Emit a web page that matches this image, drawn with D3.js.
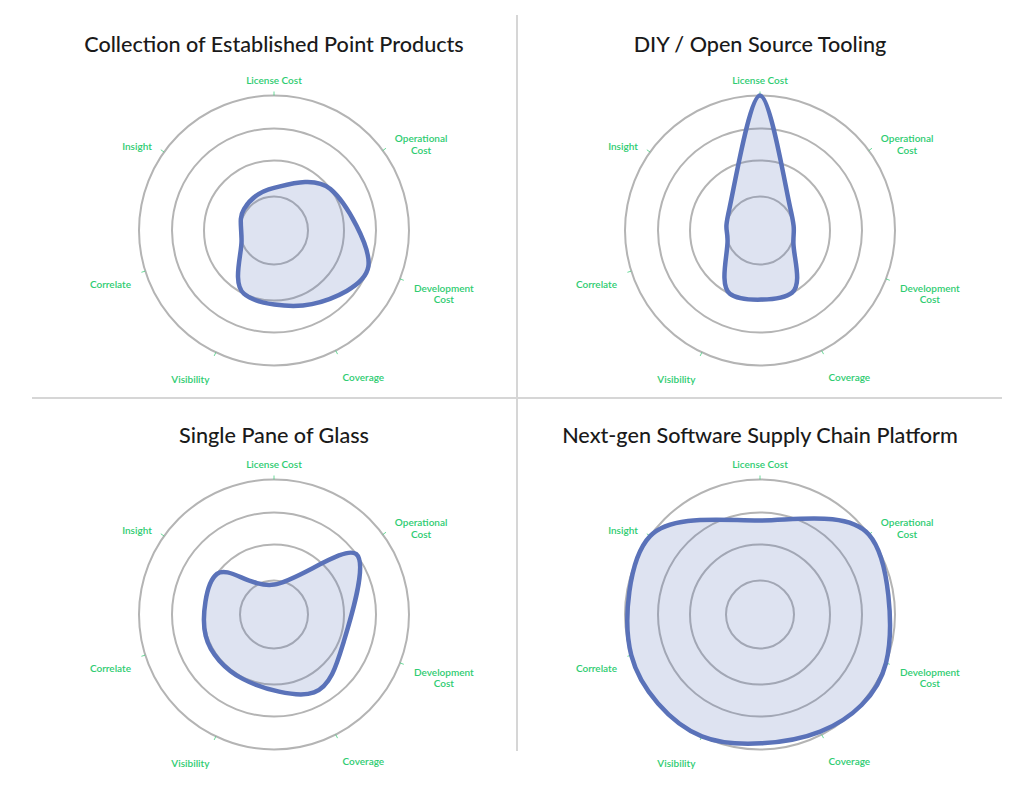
<!DOCTYPE html>
<html><head><meta charset="utf-8">
<script src="https://cdn.jsdelivr.net/npm/d3@7"></script>
<style>
html,body{margin:0;padding:0;background:#fff;}
svg{display:block;}
</style></head><body>
<svg id="c" width="1024" height="789"></svg>
<script>
// ---- data ----
const axes = ["License Cost", "Operational Cost", "Development Cost", "Coverage", "Visibility", "Correlate", "Insight"];
const chartTitles = ["Collection of Established Point Products", "DIY / Open Source Tooling", "Single Pane of Glass", "Next-gen Software Supply Chain Platform"];
const pointProducts = [1.24, 2.0, 2.97, 2.4, 2.0, 1.0, 1.08];
const diyTooling    = [4.0, 1.1, 1.05, 2.0, 2.0, 1.0, 1.1];
const singlePane    = [0.88, 3.0, 2.15, 2.55, 2.05, 2.05, 2.0];
const nextGen       = [2.75, 4.0, 4.0, 3.9, 4.0, 4.0, 4.0];
const gridLevels = [1, 2, 3, 4];

// ---- layout ----
const W = 1024, H = 789;
const seriesList = [pointProducts, diyTooling, singlePane, nextGen];
const centers = [[274, 230.5], [760, 230.5], [274, 614.5], [760, 614.5]];
const titleBaseline = [52, 52, 443, 443];
const axisAngleDeg = [0, 53.7, 111, 152.8, 205.5, 252.5, 305.5];
const LINE = "#5a72b9", GREEN = "#2ecc71", GRID = "#b4b4b4";
const FONT = "Lato, 'Open Sans', sans-serif";

const svg = d3.select("#c");
svg.append("rect").attr("width", W).attr("height", H).attr("fill", "#fff");
svg.append("line").attr("x1", 517).attr("x2", 517).attr("y1", 15).attr("y2", 751)
  .attr("stroke", "#d6d6d6").attr("stroke-width", 2);
svg.append("line").attr("x1", 32).attr("x2", 1002).attr("y1", 398).attr("y2", 398)
  .attr("stroke", "#d6d6d6").attr("stroke-width", 2);

const rScale = d3.scaleLinear().domain([0, 1, 2, 3, 4]).range([0, 34, 70, 102, 135]);
const angle = d3.scaleOrdinal().domain(axes).range(axisAngleDeg.map(d => d * Math.PI / 180));
const maxV = d3.max(gridLevels);

const radial = d3.lineRadial()
  .angle((d, i) => angle(axes[i]))
  .radius(d => rScale(d))
  .curve(d3.curveCardinalClosed);

function wrapLines(sel, word, width) {
  const words = word.split(/\s+/);
  const lines = [];
  let cur = [];
  const t = sel.append("tspan");
  words.forEach(w => {
    const test = cur.concat([w]).join(" ");
    t.text(test);
    if (t.node().getComputedTextLength() > width && cur.length) {
      lines.push(cur.join(" "));
      cur = [w];
    } else cur.push(w);
  });
  lines.push(cur.join(" "));
  t.remove();
  return lines;
}

seriesList.forEach((vals, p) => {
  const [cx, cy] = centers[p];
  const g = svg.append("g").attr("transform", `translate(${cx},${cy})`);

  // title
  svg.append("text").attr("x", cx).attr("y", titleBaseline[p])
    .attr("text-anchor", "middle").attr("font-family", FONT).attr("font-weight", 500)
    .attr("font-size", 21.6).attr("fill", "#1a1a1a").text(chartTitles[p]);

  // grid circles
  g.selectAll("circle.grid").data(gridLevels).enter().append("circle")
    .attr("r", d => rScale(d)).attr("fill", "none")
    .attr("stroke", GRID).attr("stroke-width", 2);

  // ticks
  g.selectAll("line.tick").data(axes).enter().append("line")
    .attr("x1", d => rScale(maxV) * Math.sin(angle(d)))
    .attr("y1", d => -rScale(maxV) * Math.cos(angle(d)))
    .attr("x2", d => (rScale(maxV) + 4) * Math.sin(angle(d)))
    .attr("y2", d => -(rScale(maxV) + 4) * Math.cos(angle(d)))
    .attr("stroke", GREEN).attr("stroke-width", 1).attr("opacity", 0.7);

  // area
  g.append("path").datum(vals).attr("d", radial)
    .attr("fill", LINE).attr("fill-opacity", 0.2)
    .attr("stroke", LINE).attr("stroke-width", 4.5).attr("stroke-linejoin", "round");

  // labels
  const Lx = 150, Ly = 157, lh = 11.5;
  axes.forEach(name => {
    const a = angle(name), s = Math.sin(a), c = Math.cos(a);
    const txt = g.append("text").attr("font-family", FONT).attr("font-size", 10)
      .attr("font-weight", 600).attr("fill", GREEN).attr("text-anchor", "middle");
    const lines = wrapLines(txt, name, 60);
    const spans = lines.map(l => txt.append("tspan").text(l));
    const w = d3.max(spans, sp => sp.node().getComputedTextLength());
    const shift = Math.abs(s) < 0.1 ? 0 : Math.sign(s) * w / 2;
    const bx = Lx * s + shift;
    const by = -Ly * c + 7;
    spans.forEach((sp, k) => {
      sp.attr("x", bx).attr("y", by - (lines.length - 1) * lh / 2 + k * lh).attr("dy", "0.35em");
    });
  });
});
</script>
</body></html>
